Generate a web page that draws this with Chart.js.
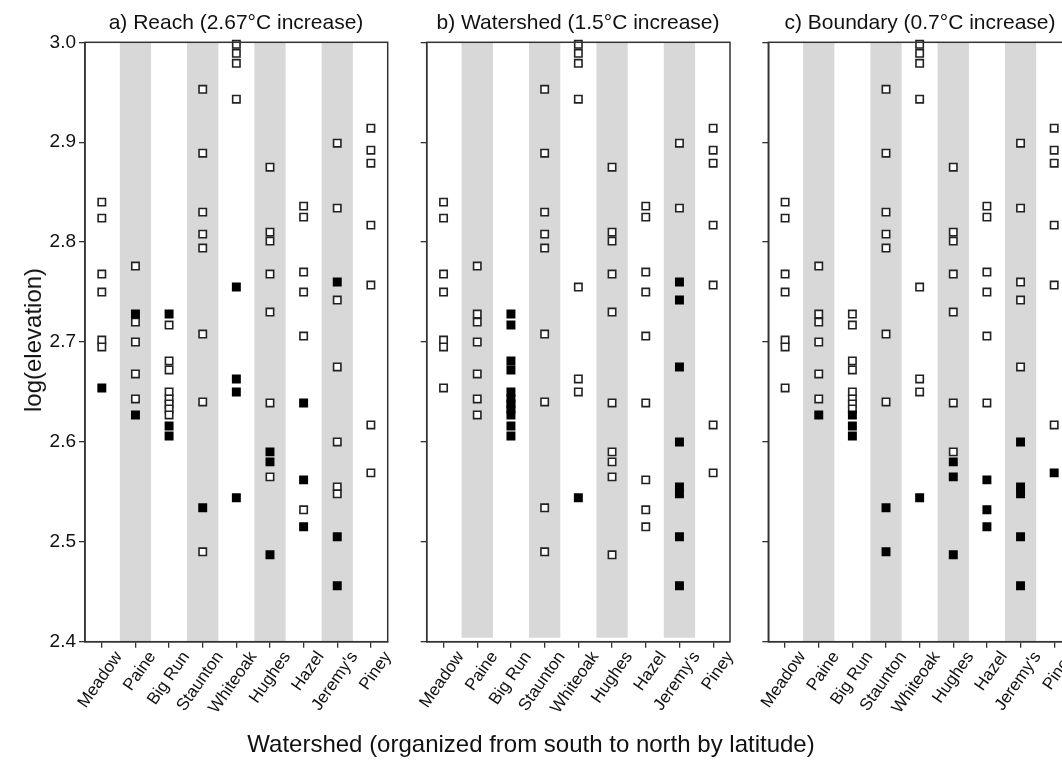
<!DOCTYPE html>
<html>
<head>
<meta charset="utf-8">
<script src="https://cdn.jsdelivr.net/npm/chart.js@4.4.1/dist/chart.umd.min.js"></script>
<style>
html,body{margin:0;padding:0;background:#fff;}
#wrap{position:relative;width:1062px;height:770px;overflow:hidden;background:#fff;font-family:"Liberation Sans",Arial,Helvetica,sans-serif;color:#111;}
#wrap canvas{position:absolute;top:0;}
.t{position:absolute;white-space:nowrap;transform:translate(-50%,-50%);line-height:1;}
.ty{position:absolute;white-space:nowrap;transform:translate(-50%,-50%) rotate(-90deg);line-height:1;}
</style>
</head>
<body>
<div id="wrap">
  <canvas id="pa" width="400" height="770" style="left:0px"></canvas>
  <canvas id="pb" width="385" height="770" style="left:360px"></canvas>
  <canvas id="pc" width="385" height="770" style="left:700px"></canvas>
  <div class="t" id="ta" style="left:236px;top:21px;font-size:21px"></div>
  <div class="t" id="tb" style="left:578px;top:21px;font-size:21px"></div>
  <div class="t" id="tc" style="left:920px;top:21px;font-size:21px"></div>
  <div class="t" id="xt" style="left:531px;top:744px;font-size:24px"></div>
  <div class="ty" id="yt" style="left:33px;top:340px;font-size:24px"></div>
</div>
<script>
// ---- data ----
const watersheds = ['Meadow', 'Paine', 'Big Run', 'Staunton', 'Whiteoak', 'Hughes', 'Hazel', "Jeremy's", 'Piney'];
const shadedWatersheds = ['Paine', 'Staunton', 'Hughes', "Jeremy's"];

const meadow   = [2.840, 2.824, 2.768, 2.750, 2.702, 2.695, 2.654];
const paine    = [2.776, 2.728, 2.720, 2.700, 2.668, 2.643, 2.627];
const bigRun   = [2.728, 2.717, 2.681, 2.672, 2.650, 2.643, 2.638, 2.633, 2.627, 2.616, 2.606];
const staunton = [2.953, 2.889, 2.830, 2.808, 2.794, 2.708, 2.640, 2.534, 2.490];
const whiteoak = [2.998, 2.989, 2.979, 2.943, 2.755, 2.663, 2.650, 2.544];
const hughes   = [2.875, 2.810, 2.801, 2.768, 2.730, 2.639, 2.590, 2.580, 2.565, 2.487];
const hazel    = [2.836, 2.825, 2.770, 2.750, 2.706, 2.639, 2.562, 2.532, 2.515];
const jeremys  = [2.899, 2.834, 2.760, 2.742, 2.675, 2.600, 2.555, 2.548, 2.505, 2.456];
const piney    = [2.914, 2.892, 2.879, 2.817, 2.757, 2.617, 2.569];
const elevationSets = [meadow, paine, bigRun, staunton, whiteoak, hughes, hazel, jeremys, piney];

// indices (into each watershed's list) of the solid squares in each panel
const reachFilled     = [[6], [1, 6], [0, 9, 10], [7], [4, 5, 6, 7], [6, 7, 9], [5, 6, 8], [2, 8, 9], []];
const watershedFilled = [[], [], [0, 1, 2, 3, 4, 5, 6, 7, 8, 9, 10], [], [7], [], [], [2, 3, 4, 5, 6, 7, 8, 9], []];
const boundaryFilled  = [[], [6], [8, 9, 10], [7, 8], [7], [7, 8, 9], [6, 7, 8], [5, 6, 7, 8, 9], [6]];

const yTickValues = [2.4, 2.5, 2.6, 2.7, 2.8, 2.9, 3.0];
const bandBottoms = [2.4, 2.404, 2.4];
const panelTitles = ['a) Reach (2.67\u00B0C increase)', 'b) Watershed (1.5\u00B0C increase)', 'c) Boundary (0.7\u00B0C increase)'];
const xAxisTitle = 'Watershed (organized from south to north by latitude)';
const yAxisTitle = 'log(elevation)';

// ---- text ----
document.getElementById('ta').textContent = panelTitles[0];
document.getElementById('tb').textContent = panelTitles[1];
document.getElementById('tc').textContent = panelTitles[2];
document.getElementById('xt').textContent = xAxisTitle;
document.getElementById('yt').textContent = yAxisTitle;

const FONT = '"Liberation Sans", Arial, Helvetica, sans-serif';
const AXIS = '#333';

const framePlugin = {
  id: 'frame',
  afterDatasetsDraw(chart) {
    const {ctx, chartArea: a} = chart;
    ctx.save();
    ctx.strokeStyle = AXIS;
    ctx.lineWidth = 1.5;
    ctx.strokeRect(a.left, a.top, a.right - a.left, a.bottom - a.top);
    ctx.restore();
  }
};

function buildPanel(canvasId, filled, bandBottom, cfg) {
  const openPts = [], solidPts = [];
  elevationSets.forEach((vals, i) => {
    vals.forEach((v, j) => {
      (filled[i].includes(j) ? solidPts : openPts).push({x: watersheds[i], y: v});
    });
  });
  const yMax = yTickValues[yTickValues.length - 1];
  const yMin = yTickValues[0];
  const bands = watersheds.map(w => shadedWatersheds.includes(w) ? [bandBottom, yMax] : null);

  return new Chart(document.getElementById(canvasId), {
    type: 'bar',
    data: {
      labels: watersheds,
      datasets: [
        {type: 'bar', data: bands, backgroundColor: '#d8d8d8', borderWidth: 0,
         categoryPercentage: 1, barPercentage: 0.93, order: 3},
        {type: 'scatter', data: openPts, pointStyle: 'rect', pointRadius: 5.2,
         backgroundColor: '#ffffff', borderColor: '#222222', borderWidth: 1.6, order: 2, clip: false},
        {type: 'scatter', data: solidPts, pointStyle: 'rect', pointRadius: 5.2,
         backgroundColor: '#000000', borderColor: '#000000', borderWidth: 1.6, order: 1, clip: false}
      ]
    },
    options: {
      responsive: false,
      animation: false,
      events: [],
      layout: {padding: {left: cfg.padLeft, right: cfg.padRight, top: 42.3, bottom: 0}},
      plugins: {legend: {display: false}, tooltip: {enabled: false}, title: {display: false}},
      scales: {
        x: {
          type: 'category',
          offset: true,
          grid: {display: true, offset: false, drawOnChartArea: false, drawTicks: true, tickLength: 6, color: AXIS, lineWidth: 1.3},
          border: {display: true, color: AXIS, width: 1.5},
          ticks: {autoSkip: false, maxRotation: 55, minRotation: 55, color: '#111',
                  font: {family: FONT, size: 17}, padding: 0, labelOffset: 17},
          afterFit: s => { s.height = 128.3; }
        },
        y: {
          type: 'linear',
          min: yMin, max: yMax,
          afterBuildTicks: s => { s.ticks = yTickValues.map(v => ({value: v})); },
          grid: {display: true, drawOnChartArea: false, drawTicks: true, tickLength: 6, color: AXIS, lineWidth: 1.3},
          border: {display: true, color: AXIS, width: 1.5},
          ticks: {display: cfg.showY, color: '#111', font: {family: FONT, size: 19}, padding: 3,
                  callback: v => Number(v).toFixed(1)},
          afterFit: s => { s.width = cfg.yWidth; }
        }
      }
    },
    plugins: [framePlugin]
  });
}

buildPanel('pa', reachFilled, bandBottoms[0], {padLeft: 0, padRight: 12.3, yWidth: 85, showY: true});
buildPanel('pb', watershedFilled, bandBottoms[1], {padLeft: 40, padRight: 15, yWidth: 26.7, showY: false});
buildPanel('pc', boundaryFilled, bandBottoms[2], {padLeft: 40, padRight: 14, yWidth: 28.3, showY: false});
</script>
</body>
</html>
